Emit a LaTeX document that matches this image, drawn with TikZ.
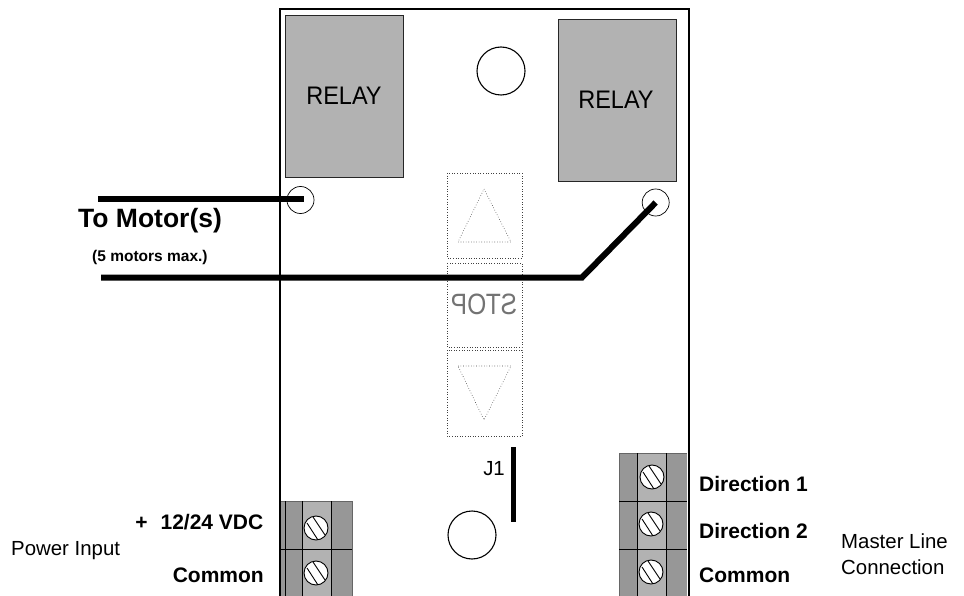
\documentclass[tikz,border=0pt]{standalone}
\usepackage{fontspec}
\usepackage{xcolor}
\setmainfont{Liberation Sans}
\usetikzlibrary{positioning}
\definecolor{relaygray}{HTML}{B2B2B2}
\definecolor{darkgray}{HTML}{979797}

\begin{document}
\begin{tikzpicture}[
    x=1pt, y=-1pt,
    relay/.style={draw=black!85, line width=0.9pt, fill=relaygray},
    relaytext/.style={font=\fontsize{23.5}{23.5}\selectfont, inner sep=0pt, yscale=1.08},
    terminal/.style={circle, draw, fill=none, inner sep=0pt, minimum size=27pt, line width=0.7pt},
    hole/.style={circle, draw, inner sep=0pt, minimum size=48pt, line width=1.1pt},
    screw/.style={circle, draw, fill=white, inner sep=0pt, minimum size=24pt, line width=0.9pt,
        path picture={
            \draw[line width=0.9pt] ([shift={(-9,-5)}]path picture bounding box.center) -- ++(11,17);
            \draw[line width=0.9pt] ([shift={(-3,-11)}]path picture bounding box.center) -- ++(12,18);
        }},
    dottedbox/.style={draw=black!75, dotted, line width=0.6pt},
    wire/.style={line width=6pt, line join=miter},
    boldtext/.style={font=\fontsize{21}{21}\selectfont\bfseries, inner sep=0pt},
    plaintext/.style={font=\fontsize{20.4}{20.4}\selectfont, inner sep=0pt}
]
    \clip (0,0) rectangle (964,596);

    % Board
    \draw[line width=2pt] (280,597) -- (280,9) -- (689,9) -- (689,597);

    % Relays
    \draw[relay] (285,15) rectangle (403,177);
    \draw[relay] (558,19) rectangle (676,181);
    \node[relaytext] (relay_left) at (344,95.5) {RELAY};
    \node[relaytext] (relay_right) at (616,99.5) {RELAY};

    % Holes
    \node[hole] (hole_top) at (501,71) {};
    \node[hole] (hole_bottom) at (472,535) {};

    % Buttons
    \draw[dottedbox] (447,173) rectangle (522,258);
    \draw[dottedbox] (447,263) rectangle (522,347);
    \draw[dottedbox] (447,350) rectangle (522,436);
    \draw[dottedbox] (484,189) -- (511,242) -- (458,242) -- cycle;
    \draw[dottedbox] (458,366) -- (511,366) -- (484,420) -- cycle;
    \node[text=black!55, font=\fontsize{24.5}{24.5}\selectfont, inner sep=0pt, xscale=-1, yscale=1.2] (stop) at (484,304) {STOP};

    % Jumper
    \node[plaintext, anchor=east] (jumper) at (505,469) {J1};
    \draw[line width=5pt] (513,447) -- (513,522);

    % Left terminal block
    \fill[darkgray] (281,501) rectangle (352,597);
    \fill[relaygray] (302,501) rectangle (331,597);
    \draw[line width=0.6pt, black!60] (281,501) -- (352,501) -- (352,597);
    \draw[line width=0.8pt] (285,501) -- (285,597);
    \draw[line width=0.9pt] (302,501) -- (302,597);
    \draw[line width=0.9pt] (331,501) -- (331,597);
    \draw[line width=0.9pt] (281,549) -- (352,549);
    \node[screw] (screw_a) at (316,528) {};
    \node[screw] (screw_b) at (316,573) {};

    % Right terminal block
    \fill[darkgray] (619,453) rectangle (687,597);
    \fill[relaygray] (637,453) rectangle (666,597);
    \draw[line width=0.6pt, black!60] (619,597) -- (619,453) -- (687,453);
    \draw[line width=0.9pt] (637,453) -- (637,597);
    \draw[line width=0.9pt] (666,453) -- (666,597);
    \draw[line width=0.9pt] (619,501) -- (687,501);
    \draw[line width=0.9pt] (619,549) -- (687,549);
    \node[screw] (screw_c) at (652,477) {};
    \node[screw] (screw_d) at (651,524) {};
    \node[screw] (screw_e) at (651,572) {};

    % Motor wires
    \node[terminal] (term_left) at (300.5,200) {};
    \node[terminal] (term_right) at (655.7,202.5) {};
    \coordinate (wire_a) at (98,199.3);
    \coordinate (wire_a_end) at (304,199.3);
    \coordinate (wire_b) at (101,277.5);
    \coordinate (wire_b_bend) at (582,277.5);
    \draw[wire] (wire_a) -- (wire_a_end);
    \draw[wire] (wire_b) -- (wire_b_bend) -- (term_right.center);

    % Labels
    \node[font=\fontsize{26.5}{26.5}\selectfont\bfseries, inner sep=0pt, anchor=west] (motor_label) at (78,221) {To Motor(s)};
    \node[font=\fontsize{15.5}{15.5}\selectfont\bfseries, inner sep=0pt, anchor=west] (motor_note) at (92,257) {(5 motors max.)};
    \node[boldtext, anchor=east] (vdc_label) at (263.5,522) {+\hspace{7pt} 12/24 VDC};
    \node[boldtext, anchor=east] (common_left) at (264,575) {Common};
    \node[plaintext, anchor=west] (power_label) at (11,551) {Power Input};
    \node[boldtext, anchor=west] (dir_one) at (699,484) {Direction 1};
    \node[boldtext, anchor=west] (dir_two) at (699,531) {Direction 2};
    \node[boldtext, anchor=west] (common_right) at (699,575) {Common};
    \node[plaintext, anchor=west] (master_line) at (841,541) {Master Line};
    \node[plaintext, anchor=west] (connection) at (841,567) {Connection};
\end{tikzpicture}
\end{document}
